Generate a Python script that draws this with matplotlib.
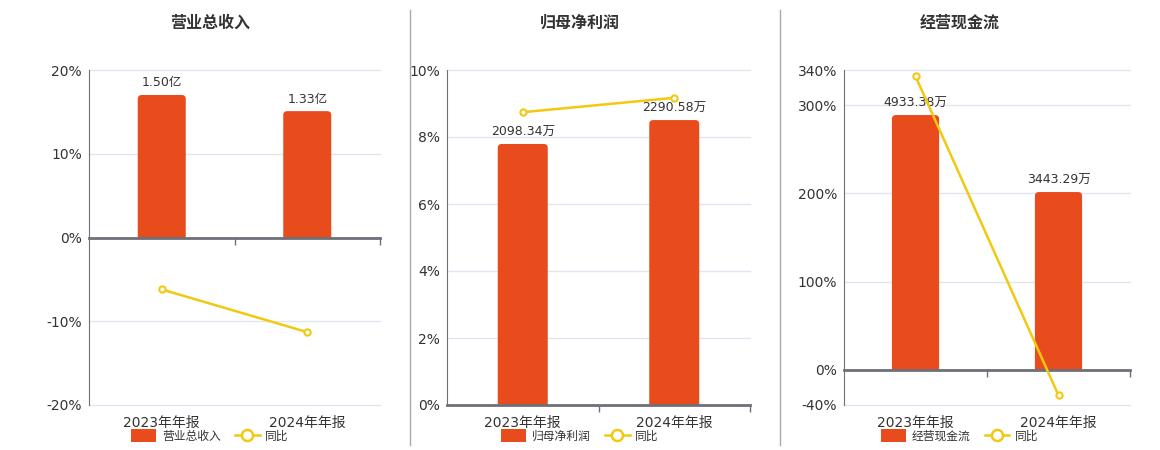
import matplotlib
matplotlib.use("Agg")
import matplotlib.pyplot as plt
from matplotlib.lines import Line2D
from matplotlib.patches import Patch, FancyBboxPatch, Rectangle
from matplotlib.ticker import FuncFormatter

plt.rcParams['font.family'] = ['DejaVu Sans', 'Noto Sans CJK SC']

# data
periods = ["2023年年报", "2024年年报"]
titles = ["营业总收入", "归母净利润", "经营现金流"]

revenue = [1.50, 1.33]            # 亿
revenue_labels = ["1.50亿", "1.33亿"]
revenue_yoy = [-6.2, -11.3]       # %

profit = [2098.34, 2290.58]       # 万
profit_labels = ["2098.34万", "2290.58万"]
profit_yoy = [8.74, 9.17]

cash = [4933.38, 3443.29]         # 万
cash_labels = ["4933.38万", "3443.29万"]
cash_yoy = [333.0, -29.0]

BAR = "#e84c1d"
LINE = "#f2c811"
AXIS = "#6e7079"
GRID = "#e0e6f1"
TXT = "#333333"

W, H = 1160, 450
fig = plt.figure(figsize=(W / 100, H / 100), dpi=100)


def px_box(left, right, top, bottom):
    return [left / W, 1 - bottom / H, (right - left) / W, (bottom - top) / H]


def round_tops(bax, bars, box, bar_lim, radius_px=4):
    # swap plain rectangles for ones with rounded top corners
    wpx = box[2] * W
    hpx = box[3] * H
    xu = 2.0 / wpx                          # x data units per pixel
    yu = (bar_lim[1] - bar_lim[0]) / hpx    # y data units per pixel
    r = radius_px * xu
    for rect in bars:
        x, w, h = rect.get_x(), rect.get_width(), rect.get_height()
        rect.set_visible(False)
        p = FancyBboxPatch((x, -radius_px * yu), w, h + radius_px * yu,
                           boxstyle=f"round,pad=0,rounding_size={r}",
                           mutation_aspect=yu / xu,
                           facecolor=BAR, edgecolor="none", zorder=2)
        bax.add_patch(p)
        clip = Rectangle((x - w, 0), 3 * w, 2 * h, transform=bax.transData)
        p.set_clip_path(clip)


def panel(box, title, tx, vals, labels, yoy, pct_lim, pct_ticks, bar_lim, fmt):
    ax = fig.add_axes(box)
    ax.set_xlim(-0.5, 1.5)
    ax.set_ylim(*pct_lim)
    ax.set_yticks(pct_ticks)
    ax.yaxis.set_major_formatter(FuncFormatter(fmt))
    ax.grid(axis="y", color=GRID, linewidth=1)
    for gl in ax.get_ygridlines():
        gl.set_clip_on(False)
    ax.set_axisbelow(True)
    for s in ["top", "right", "bottom"]:
        ax.spines[s].set_visible(False)
    ax.spines["left"].set_color(AXIS)
    ax.tick_params(axis="y", length=0, pad=5, labelsize=10, labelcolor=TXT)
    ax.set_xticks([0, 1])
    ax.set_xticklabels(periods)
    ax.tick_params(axis="x", length=0, pad=8, labelsize=10, labelcolor=TXT)

    # tick marks between categories on the zero line
    sec = ax.secondary_xaxis(0, transform=ax.transData)
    sec.set_xticks([0.5, 1.5])
    sec.set_xticklabels([])
    sec.tick_params(length=5, width=1, color=AXIS, direction="out")
    sec.spines["bottom"].set_visible(False)

    # bars on their own scale, zero aligned with 0%
    bax = ax.twinx()
    bax.set_ylim(*bar_lim)
    bax.axis("off")
    bars = bax.bar([0, 1], vals, width=0.33, color=BAR, zorder=2)
    bax.bar_label(bars, labels=labels, padding=4, fontsize=9, color=TXT)
    round_tops(bax, bars, box, bar_lim)

    # zero line and yoy line on top
    lax = ax.twinx()
    lax.set_ylim(*pct_lim)
    lax.axis("off")
    lax.axhline(0, color=AXIS, linewidth=2, zorder=1, clip_on=False)
    lax.plot([0, 1], yoy, color=LINE, linewidth=1.8, marker="o", markersize=4.5,
             markerfacecolor="white", markeredgecolor=LINE, markeredgewidth=1.5,
             zorder=3)

    fig.text(tx / W, 1 - 23 / H, title, ha="center", va="center",
             fontsize=11.5, fontweight="bold", color=TXT)
    handles = [Patch(facecolor=BAR, edgecolor=BAR, linewidth=0),
               Line2D([], [], color=LINE, linewidth=1.8, marker="o", markersize=8,
                      markerfacecolor="white", markeredgecolor=LINE,
                      markeredgewidth=1.8)]
    fig.legend(handles, [title, "同比"], loc="center", ncol=2, frameon=False,
               bbox_to_anchor=(tx / W, 1 - 436 / H), fontsize=8.5,
               handlelength=2.1, handleheight=1.3, handletextpad=0.5,
               columnspacing=1.2, labelcolor=TXT)
    return ax


pct_fmt = lambda v, p: f"{v:.0f}%"

panel(px_box(89, 380, 70, 405), titles[0], 210, revenue, revenue_labels,
      revenue_yoy, (-20, 20), [-20, -10, 0, 10, 20], (-1.763, 1.763), pct_fmt)
panel(px_box(447, 750, 70, 405), titles[1], 580, profit, profit_labels,
      profit_yoy, (0, 10), [0, 2, 4, 6, 8, 10], (0, 2693), pct_fmt)
panel(px_box(844, 1130, 70, 405), titles[2], 960, cash, cash_labels,
      cash_yoy, (-40, 340), [-40, 0, 100, 200, 300, 340], (-678, 5805), pct_fmt)

# panel separators
for xs in [410, 780]:
    fig.add_artist(Line2D([xs / W, xs / W], [1 - 445 / H, 1 - 10 / H],
                          color="#aaaaaa", linewidth=1))

fig.savefig("out.png", dpi=100)
